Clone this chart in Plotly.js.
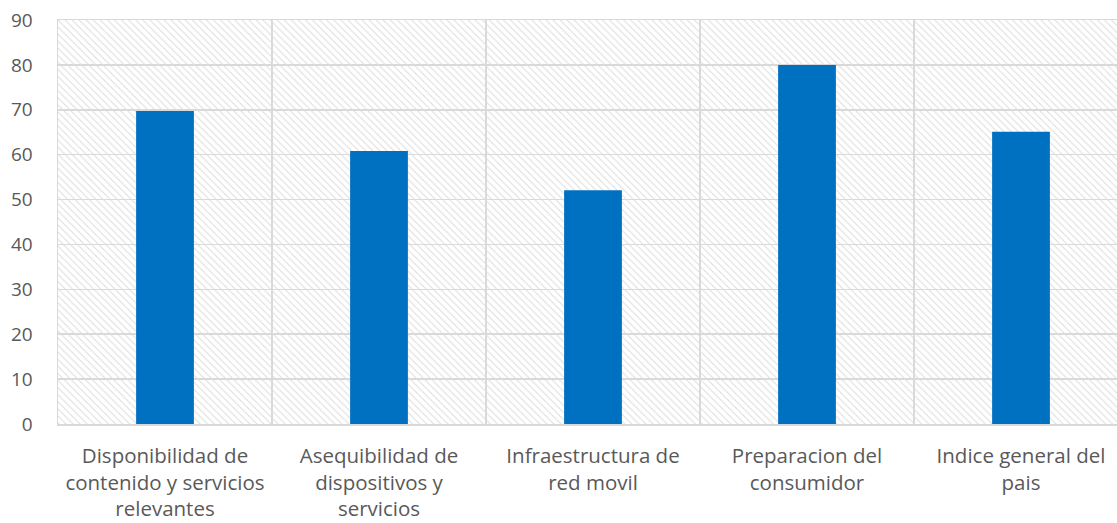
<!DOCTYPE html>
<html>
<head>
<meta charset="utf-8">
<script src="https://cdn.plot.ly/plotly-3.0.1.min.js"></script>
<style>
  html, body { margin: 0; padding: 0; overflow: hidden; background: #fff; }
  #chart { width: 1130px; height: 523px; }
</style>
</head>
<body>
<div id="chart"></div>
<script>
// Data
const categories = [
  "Disponibilidad de<br>contenido y servicios<br>relevantes",
  "Asequibilidad de<br>dispositivos y<br>servicios",
  "Infraestructura de<br>red movil",
  "Preparacion del<br>consumidor",
  "Indice general del<br>pais"
];
const values = [69.7, 60.8, 52.1, 80.0, 65.1];
const yTickVals = [0, 10, 20, 30, 40, 50, 60, 70, 80, 90];
const yMax = 90;

const bgTrace = {
  type: "bar",
  x: categories,
  y: categories.map(() => yMax),
  width: 1,
  marker: {
    color: "rgba(0,0,0,0)",
    line: { width: 0 },
    pattern: { shape: "\\", fgcolor: "#dcdcdc", bgcolor: "rgba(0,0,0,0)", size: 5, solidity: 0.2 }
  },
  hoverinfo: "skip",
  showlegend: false
};

const barTrace = {
  type: "bar",
  x: categories,
  y: values,
  width: 0.27,
  marker: { color: "#0070C0", line: { width: 0 } },
  showlegend: false
};

const layout = {
  width: 1130,
  height: 523,
  margin: { l: 58, r: 2, t: 20, b: 99 },
  paper_bgcolor: "#ffffff",
  plot_bgcolor: "#ffffff",
  barmode: "overlay",
  font: { family: "Open Sans, Liberation Sans, sans-serif", color: "#595959", size: 17 },
  xaxis: {
    type: "category",
    tickson: "boundaries",
    showgrid: true,
    gridcolor: "#d9d9d9",
    gridwidth: 1.5,
    ticks: "",
    showline: true,
    linecolor: "#d9d9d9",
    linewidth: 1.5,
    mirror: true,
    ticklabelstandoff: 13,
    tickfont: { size: 20.5, color: "#595959" },
    range: [-0.5, 4.5],
    fixedrange: true
  },
  yaxis: {
    range: [0, yMax],
    tickvals: yTickVals,
    showgrid: true,
    gridcolor: "#d9d9d9",
    gridwidth: 1.5,
    zeroline: false,
    showline: true,
    linecolor: "#d9d9d9",
    linewidth: 1.5,
    ticks: "",
    ticklabelstandoff: 20,
    tickfont: { size: 19, color: "#595959" },
    fixedrange: true
  }
};

Plotly.newPlot("chart", [bgTrace, barTrace], layout, { displayModeBar: false, staticPlot: true });
</script>
</body>
</html>
